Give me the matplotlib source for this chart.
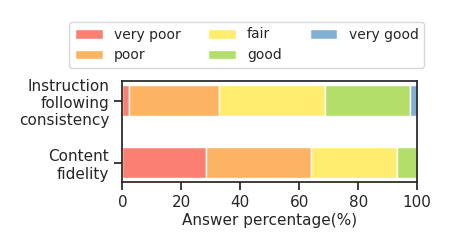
import matplotlib
matplotlib.use("Agg")
import matplotlib.pyplot as plt
import seaborn as sns
import numpy as np

sns.set_style("ticks")
plt.rcParams['font.family'] = ['DejaVu Sans']
plt.rcParams['axes.linewidth'] = 1.25
plt.rcParams['xtick.major.width'] = 1.25
plt.rcParams['ytick.major.width'] = 1.25
plt.rcParams['xtick.major.size'] = 6
plt.rcParams['ytick.major.size'] = 6

categories = ["Content\nfidelity", "Instruction\nfollowing\nconsistency"]
levels = ["very poor", "poor", "fair", "good", "very good"]
values = {
    "very poor": [28.4, 2.3],
    "poor": [35.6, 30.5],
    "fair": [29.0, 36.1],
    "good": [7.0, 28.8],
    "very good": [0.0, 2.3],
}
colors = ["#fb8072", "#fdb462", "#ffed6f", "#b3de69", "#80b1d3"]

fig = plt.figure(figsize=(4.5, 2.5), dpi=100)
ax = fig.add_axes([0.272, 0.272, 0.655, 0.404])

y = np.arange(len(categories))
left = np.zeros(len(categories))
for lvl, c in zip(levels, colors):
    v = np.array(values[lvl])
    ax.barh(y, v, left=left, height=0.5, color=c, edgecolor="white",
            linewidth=1, label=lvl)
    left += v

ax.set_yticks(y)
ax.set_yticklabels(categories, fontsize=11)
ax.set_xlim(0, 100)
ax.set_ylim(-0.31, 1.32)
ax.set_xticks([0, 20, 40, 60, 80, 100])
ax.tick_params(axis='x', labelsize=11)
ax.set_xlabel("Answer percentage(%)", fontsize=11, labelpad=2)

fig.legend(loc="upper center", bbox_to_anchor=(0.548, 0.94), ncol=3,
           fontsize=10, frameon=True, handlelength=2, columnspacing=2.0)

fig.savefig("out.png", dpi=100)
